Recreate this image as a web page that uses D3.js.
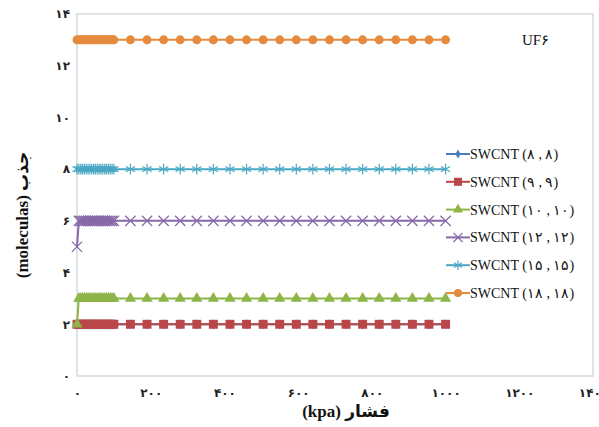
<!DOCTYPE html>
<html>
<head>
<meta charset="utf-8">
<script src="https://cdn.jsdelivr.net/npm/d3@7"></script>
<style>
  body { margin: 0; background: #fff; }
  svg { display: block; }
</style>
</head>
<body>
<svg id="chart" width="599" height="427"></svg>
<script>
// pressure values (kpa)
const pressure = [0, 5, 10, 15, 20, 25, 30, 35, 40, 45, 50, 55, 60, 65, 70, 75, 80, 85, 90, 95, 100,
  145, 190, 235, 280, 325, 370, 415, 460, 505, 550, 595, 640, 685, 730, 775, 820, 865, 910, 955, 1000];

const swcnt88 = [2, 2, 2, 2, 2, 2, 2, 2, 2, 2, 2, 2, 2, 2, 2, 2, 2, 2, 2, 2, 2,
  2, 2, 2, 2, 2, 2, 2, 2, 2, 2, 2, 2, 2, 2, 2, 2, 2, 2, 2, 2];
const swcnt99 = [2, 2, 2, 2, 2, 2, 2, 2, 2, 2, 2, 2, 2, 2, 2, 2, 2, 2, 2, 2, 2,
  2, 2, 2, 2, 2, 2, 2, 2, 2, 2, 2, 2, 2, 2, 2, 2, 2, 2, 2, 2];
const swcnt1010 = [2, 3, 3, 3, 3, 3, 3, 3, 3, 3, 3, 3, 3, 3, 3, 3, 3, 3, 3, 3, 3,
  3, 3, 3, 3, 3, 3, 3, 3, 3, 3, 3, 3, 3, 3, 3, 3, 3, 3, 3, 3];
const swcnt1212 = [5, 6, 6, 6, 6, 6, 6, 6, 6, 6, 6, 6, 6, 6, 6, 6, 6, 6, 6, 6, 6,
  6, 6, 6, 6, 6, 6, 6, 6, 6, 6, 6, 6, 6, 6, 6, 6, 6, 6, 6, 6];
const swcnt1515 = [8, 8, 8, 8, 8, 8, 8, 8, 8, 8, 8, 8, 8, 8, 8, 8, 8, 8, 8, 8, 8,
  8, 8, 8, 8, 8, 8, 8, 8, 8, 8, 8, 8, 8, 8, 8, 8, 8, 8, 8, 8];
const swcnt1818 = [13, 13, 13, 13, 13, 13, 13, 13, 13, 13, 13, 13, 13, 13, 13, 13, 13, 13, 13, 13, 13,
  13, 13, 13, 13, 13, 13, 13, 13, 13, 13, 13, 13, 13, 13, 13, 13, 13, 13, 13, 13];

const seriesNames = ["SWCNT (۸ , ۸)", "SWCNT (۹ , ۹)", "SWCNT (۱۰ , ۱۰)",
  "SWCNT (۱۲ , ۱۲)", "SWCNT (۱۵ , ۱۵)", "SWCNT (۱۸ , ۱۸)"];

const xTicks = [0, 200, 400, 600, 800, 1000, 1200, 1400];
const xTickLabels = ["۰", "۲۰۰", "۴۰۰", "۶۰۰", "۸۰۰", "۱۰۰۰", "۱۲۰۰", "۱۴۰۰"];
const yTicks = [0, 2, 4, 6, 8, 10, 12, 14];
const yTickLabels = ["۰", "۲", "۴", "۶", "۸", "۱۰", "۱۲", "۱۴"];

const svg = d3.select("#chart");
const margin = { top: 14, right: 6, bottom: 51, left: 77 },
      width = +svg.attr("width") - margin.left - margin.right,
      height = +svg.attr("height") - margin.top - margin.bottom;

const x = d3.scaleLinear().domain([0, 1400]).range([0, width]);
const y = d3.scaleLinear().domain([0, 14]).range([height, 0]);

const g = svg.append("g").attr("transform", `translate(${margin.left},${margin.top})`);

// plot frame
g.append("rect")
  .attr("width", width).attr("height", height)
  .attr("fill", "none").attr("stroke", "#d6dadc").attr("stroke-width", 1.5);

const digitFont = "'DejaVu Sans', sans-serif";

// x axis
const xAxis = g.append("g")
  .attr("transform", `translate(0,${height})`)
  .call(d3.axisBottom(x).tickValues(xTicks).tickSize(0).tickPadding(12)
    .tickFormat((d, i) => xTickLabels[i]));
xAxis.select(".domain").remove();
xAxis.selectAll("text").style("font-family", digitFont).style("font-weight", "bold")
  .style("font-size", "12px").attr("fill", "#222");

// y axis
const yAxis = g.append("g")
  .call(d3.axisLeft(y).tickValues(yTicks).tickSize(0).tickPadding(7)
    .tickFormat((d, i) => yTickLabels[i]));
yAxis.select(".domain").remove();
yAxis.selectAll("text").style("font-family", digitFont).style("font-weight", "bold")
  .style("font-size", "12px").attr("fill", "#222");

// series definitions
const series = [
  { name: seriesNames[0], values: swcnt88, color: "#4a7ebb", symbol: d3.symbolDiamond, size: 30, stroke: false },
  { name: seriesNames[1], values: swcnt99, color: "#b9474a", symbol: d3.symbolSquare, size: 80, stroke: false },
  { name: seriesNames[2], values: swcnt1010, color: "#8db54a", symbol: d3.symbolTriangle, size: 55, stroke: false },
  { name: seriesNames[3], values: swcnt1212, color: "#8768a8", symbol: d3.symbolTimes, size: 70, stroke: true },
  { name: seriesNames[4], values: swcnt1515, color: "#4aa8c4", symbol: d3.symbolAsterisk, size: 80, stroke: true },
  { name: seriesNames[5], values: swcnt1818, color: "#e48b3e", symbol: d3.symbolCircle, size: 64, stroke: false }
];

const line = d3.line().x(d => x(d[0])).y(d => y(d[1]));

function styleMarker(sel, s) {
  if (s.stroke) {
    sel.attr("fill", "none").attr("stroke", s.color).attr("stroke-width", 1.2);
  } else {
    sel.attr("fill", s.color);
  }
}

series.forEach(s => {
  const pts = pressure.map((p, i) => [p, s.values[i]]);
  g.append("path")
    .datum(pts)
    .attr("d", line)
    .attr("fill", "none")
    .attr("stroke", s.color)
    .attr("stroke-width", 2);
  g.append("g").selectAll("path")
    .data(pts)
    .enter()
    .append("path")
    .attr("transform", d => `translate(${x(d[0])},${y(d[1])})`)
    .attr("d", d3.symbol().type(s.symbol).size(s.size))
    .call(styleMarker, s);
});

// legend
const legend = svg.append("g").attr("transform", "translate(446,154)");
series.forEach((s, i) => {
  const row = legend.append("g").attr("transform", `translate(0,${i * 27.8})`);
  row.append("line")
    .attr("x1", 0).attr("x2", 24)
    .attr("stroke", s.color).attr("stroke-width", 2);
  row.append("path")
    .attr("transform", "translate(12,0)")
    .attr("d", d3.symbol().type(s.symbol).size(s.size * 0.8))
    .call(styleMarker, s);
  row.append("text")
    .attr("x", 24).attr("y", 5)
    .style("font-family", "'Liberation Serif', serif")
    .style("font-size", "14px")
    .attr("fill", "#111")
    .text(s.name);
});

// UF6 label
svg.append("text")
  .attr("x", 522).attr("y", 45)
  .style("font-family", "'Liberation Serif', serif")
  .style("font-size", "15px")
  .attr("fill", "#111")
  .text("UF۶");

// axis titles
svg.append("text")
  .attr("x", 346).attr("y", 417)
  .attr("text-anchor", "middle")
  .style("font-family", "'Liberation Serif', 'DejaVu Sans', serif")
  .style("font-weight", "bold")
  .style("font-size", "17px")
  .attr("fill", "#111")
  .text("(kpa) فشار");

svg.append("text")
  .attr("transform", "translate(28,215) rotate(-90)")
  .attr("text-anchor", "middle")
  .style("font-family", "'Liberation Serif', 'DejaVu Sans', serif")
  .style("font-weight", "bold")
  .style("font-size", "17px")
  .attr("fill", "#111")
  .text("(moleculas) جذب");
</script>
</body>
</html>
